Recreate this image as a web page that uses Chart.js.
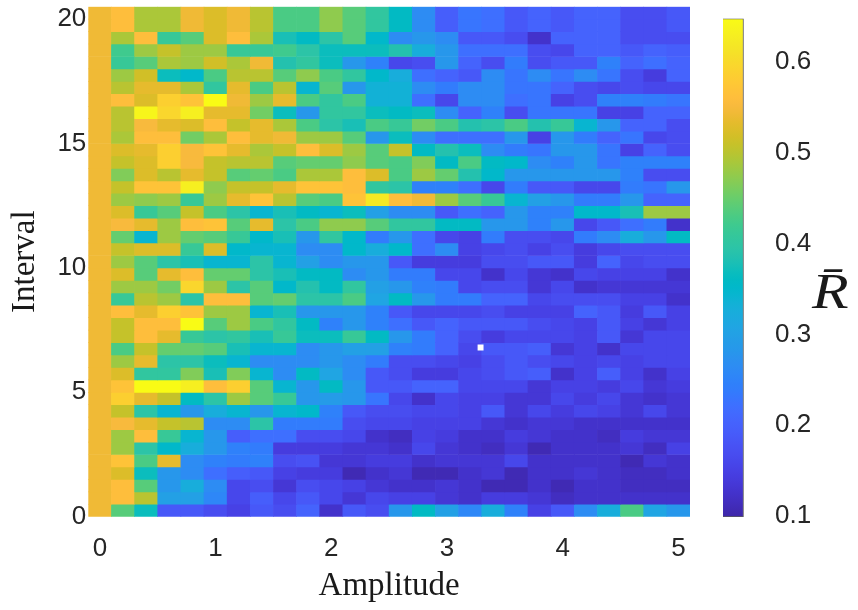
<!DOCTYPE html>
<html>
<head>
<meta charset="utf-8">
<script src="https://cdn.jsdelivr.net/npm/chart.js@4.4.1/dist/chart.umd.min.js"></script>
<style>
  html, body { margin: 0; padding: 0; background: #ffffff; }
  #wrap { position: relative; width: 858px; height: 610px; overflow: hidden; }
  #wrap canvas { position: absolute; left: 0; top: 0; }
  #rlabel { position: absolute; left: 812px; top: 266px; font: italic 50px "Liberation Serif", "Times New Roman", serif; line-height: 50px; color: #1a1a1a; transform: scaleX(1.2); transform-origin: left center; }
</style>
</head>
<body>
<div id="wrap">
  <canvas id="main" width="858" height="610"></canvas>
  <canvas id="cbar" width="858" height="610"></canvas>
  <div id="rlabel">R&#772;</div>
</div>
<script>
// ---------------- data ----------------
const amplitudes = [0.0,0.2,0.4,0.6,0.8,1.0,1.2,1.4,1.6,1.8,2.0,2.2,2.4,2.6,2.8,3.0,3.2,3.4,3.6,3.8,4.0,4.2,4.4,4.6,4.8,5.0];
// row centres, top row first
const intervals = [20.25,19.75,19.25,18.75,18.25,17.75,17.25,16.75,16.25,15.75,15.25,14.75,14.25,13.75,13.25,12.75,12.25,11.75,11.25,10.75,10.25,9.75,9.25,8.75,8.25,7.75,7.25,6.75,6.25,5.75,5.25,4.75,4.25,3.75,3.25,2.75,2.25,1.75,1.25,0.75,0.25];
// mean R values, one row per interval (top row first), one column per amplitude
const rBar = [
[0.545,0.56,0.49,0.49,0.54,0.52,0.54,0.50,0.43,0.43,0.47,0.44,0.40,0.36,0.27,0.20,0.23,0.225,0.185,0.21,0.185,0.205,0.205,0.175,0.175,0.185],
[0.545,0.56,0.49,0.49,0.54,0.52,0.54,0.50,0.43,0.43,0.47,0.44,0.40,0.36,0.27,0.20,0.23,0.225,0.185,0.21,0.185,0.205,0.205,0.175,0.175,0.185],
[0.545,0.49,0.56,0.41,0.44,0.52,0.56,0.49,0.38,0.36,0.395,0.435,0.35,0.265,0.28,0.27,0.185,0.19,0.175,0.13,0.205,0.205,0.205,0.175,0.175,0.175],
[0.545,0.42,0.48,0.51,0.48,0.48,0.41,0.41,0.42,0.395,0.37,0.37,0.37,0.39,0.33,0.285,0.225,0.225,0.225,0.175,0.165,0.205,0.205,0.19,0.205,0.20],
[0.545,0.415,0.44,0.49,0.485,0.515,0.49,0.54,0.39,0.40,0.37,0.285,0.25,0.16,0.175,0.285,0.205,0.175,0.24,0.175,0.185,0.185,0.25,0.205,0.22,0.205],
[0.545,0.485,0.515,0.37,0.35,0.43,0.50,0.50,0.44,0.47,0.43,0.40,0.35,0.33,0.225,0.21,0.185,0.265,0.235,0.265,0.235,0.27,0.235,0.175,0.145,0.205],
[0.545,0.50,0.53,0.53,0.49,0.40,0.53,0.43,0.50,0.345,0.435,0.285,0.335,0.335,0.265,0.24,0.265,0.27,0.235,0.235,0.21,0.175,0.165,0.175,0.165,0.165],
[0.545,0.56,0.52,0.585,0.565,0.64,0.54,0.485,0.53,0.425,0.40,0.43,0.335,0.335,0.225,0.165,0.27,0.27,0.225,0.235,0.155,0.175,0.25,0.25,0.24,0.23],
[0.545,0.50,0.635,0.59,0.63,0.53,0.535,0.455,0.37,0.285,0.40,0.40,0.37,0.36,0.37,0.265,0.21,0.25,0.175,0.235,0.235,0.235,0.155,0.155,0.205,0.205],
[0.545,0.495,0.55,0.535,0.525,0.56,0.51,0.53,0.49,0.43,0.395,0.38,0.43,0.415,0.455,0.43,0.39,0.395,0.425,0.39,0.415,0.345,0.28,0.205,0.205,0.175],
[0.545,0.49,0.56,0.56,0.455,0.49,0.56,0.53,0.545,0.48,0.48,0.435,0.285,0.37,0.265,0.225,0.225,0.225,0.28,0.155,0.28,0.24,0.205,0.235,0.165,0.175],
[0.545,0.525,0.53,0.58,0.55,0.565,0.53,0.49,0.51,0.56,0.525,0.48,0.435,0.51,0.36,0.39,0.37,0.27,0.24,0.235,0.28,0.28,0.235,0.155,0.205,0.175],
[0.545,0.505,0.525,0.585,0.55,0.505,0.50,0.50,0.435,0.45,0.45,0.47,0.44,0.43,0.46,0.36,0.43,0.36,0.355,0.27,0.25,0.28,0.235,0.25,0.25,0.25],
[0.545,0.46,0.525,0.50,0.535,0.505,0.44,0.45,0.43,0.49,0.49,0.555,0.52,0.43,0.48,0.45,0.39,0.355,0.285,0.285,0.28,0.28,0.28,0.25,0.175,0.175],
[0.545,0.505,0.57,0.57,0.625,0.47,0.505,0.51,0.53,0.57,0.57,0.555,0.40,0.395,0.25,0.25,0.225,0.165,0.24,0.185,0.185,0.165,0.165,0.24,0.235,0.28],
[0.545,0.48,0.475,0.48,0.415,0.48,0.53,0.57,0.50,0.435,0.43,0.57,0.62,0.555,0.54,0.48,0.435,0.415,0.34,0.30,0.285,0.24,0.24,0.285,0.205,0.205],
[0.545,0.525,0.41,0.44,0.505,0.425,0.395,0.345,0.38,0.36,0.34,0.37,0.30,0.265,0.265,0.19,0.225,0.205,0.28,0.25,0.25,0.355,0.355,0.38,0.48,0.48],
[0.545,0.55,0.53,0.48,0.56,0.565,0.435,0.535,0.395,0.43,0.47,0.47,0.435,0.40,0.40,0.36,0.36,0.28,0.28,0.25,0.28,0.165,0.185,0.22,0.24,0.125],
[0.545,0.45,0.345,0.48,0.45,0.44,0.415,0.355,0.375,0.285,0.40,0.35,0.24,0.28,0.225,0.165,0.155,0.24,0.175,0.175,0.165,0.24,0.27,0.33,0.285,0.36],
[0.545,0.505,0.525,0.525,0.415,0.52,0.35,0.345,0.345,0.265,0.265,0.35,0.33,0.355,0.225,0.27,0.155,0.165,0.175,0.155,0.175,0.145,0.165,0.17,0.17,0.17],
[0.545,0.485,0.435,0.395,0.375,0.345,0.345,0.395,0.345,0.30,0.27,0.285,0.285,0.19,0.145,0.145,0.145,0.175,0.175,0.19,0.185,0.145,0.205,0.16,0.175,0.175],
[0.545,0.52,0.44,0.535,0.555,0.45,0.45,0.395,0.38,0.36,0.36,0.27,0.28,0.24,0.24,0.165,0.165,0.13,0.165,0.135,0.13,0.165,0.155,0.155,0.155,0.13],
[0.545,0.48,0.48,0.455,0.59,0.485,0.395,0.44,0.35,0.39,0.36,0.40,0.30,0.285,0.25,0.24,0.165,0.175,0.175,0.135,0.165,0.13,0.135,0.135,0.135,0.135],
[0.545,0.415,0.50,0.48,0.395,0.56,0.56,0.435,0.45,0.395,0.395,0.425,0.31,0.36,0.28,0.24,0.24,0.21,0.205,0.165,0.175,0.175,0.17,0.155,0.155,0.13],
[0.545,0.56,0.535,0.58,0.565,0.485,0.485,0.345,0.375,0.285,0.285,0.285,0.25,0.185,0.165,0.165,0.165,0.17,0.155,0.155,0.155,0.205,0.185,0.15,0.19,0.155],
[0.545,0.505,0.56,0.56,0.645,0.435,0.48,0.43,0.40,0.36,0.25,0.28,0.25,0.225,0.19,0.205,0.19,0.185,0.19,0.175,0.165,0.155,0.185,0.155,0.14,0.155],
[0.545,0.505,0.555,0.535,0.415,0.395,0.40,0.38,0.415,0.37,0.37,0.415,0.36,0.28,0.24,0.205,0.175,0.15,0.165,0.165,0.165,0.155,0.185,0.14,0.16,0.16],
[0.545,0.43,0.505,0.45,0.45,0.44,0.38,0.345,0.345,0.265,0.28,0.30,0.30,0.25,0.24,0.21,0.165,0.19,0.19,0.20,0.14,0.155,0.13,0.165,0.165,0.16],
[0.545,0.48,0.535,0.395,0.395,0.37,0.345,0.265,0.27,0.265,0.285,0.265,0.24,0.175,0.175,0.165,0.155,0.175,0.19,0.175,0.165,0.155,0.165,0.155,0.165,0.165],
[0.545,0.525,0.40,0.40,0.46,0.38,0.46,0.345,0.27,0.36,0.31,0.265,0.19,0.175,0.145,0.145,0.165,0.175,0.19,0.195,0.13,0.155,0.20,0.155,0.13,0.155],
[0.545,0.57,0.645,0.64,0.63,0.555,0.585,0.44,0.34,0.28,0.36,0.28,0.185,0.185,0.205,0.205,0.165,0.165,0.165,0.14,0.155,0.155,0.15,0.165,0.14,0.15],
[0.545,0.585,0.535,0.51,0.36,0.395,0.48,0.435,0.41,0.28,0.295,0.28,0.235,0.165,0.13,0.165,0.155,0.155,0.14,0.14,0.165,0.15,0.16,0.14,0.13,0.14],
[0.545,0.505,0.395,0.345,0.285,0.33,0.345,0.285,0.34,0.355,0.25,0.19,0.175,0.175,0.165,0.165,0.155,0.185,0.14,0.165,0.15,0.16,0.155,0.14,0.165,0.14],
[0.545,0.55,0.535,0.51,0.50,0.265,0.265,0.395,0.24,0.24,0.24,0.175,0.165,0.165,0.155,0.155,0.155,0.14,0.13,0.135,0.135,0.13,0.13,0.13,0.13,0.13],
[0.545,0.48,0.56,0.415,0.345,0.285,0.195,0.225,0.225,0.175,0.175,0.165,0.13,0.12,0.155,0.145,0.13,0.13,0.15,0.135,0.13,0.13,0.12,0.15,0.135,0.135],
[0.545,0.48,0.395,0.355,0.33,0.285,0.25,0.24,0.15,0.15,0.15,0.135,0.135,0.13,0.165,0.135,0.13,0.12,0.135,0.11,0.13,0.125,0.13,0.135,0.12,0.155],
[0.545,0.57,0.43,0.535,0.265,0.25,0.24,0.25,0.17,0.18,0.135,0.14,0.15,0.15,0.13,0.135,0.14,0.135,0.16,0.13,0.13,0.125,0.13,0.11,0.135,0.125],
[0.545,0.525,0.37,0.285,0.27,0.225,0.20,0.185,0.155,0.15,0.15,0.11,0.13,0.135,0.11,0.11,0.125,0.14,0.115,0.13,0.125,0.135,0.125,0.12,0.12,0.125],
[0.545,0.56,0.435,0.285,0.33,0.265,0.16,0.17,0.14,0.17,0.16,0.155,0.135,0.13,0.13,0.135,0.13,0.115,0.11,0.125,0.115,0.125,0.125,0.12,0.12,0.12],
[0.545,0.56,0.50,0.30,0.30,0.26,0.165,0.195,0.16,0.185,0.165,0.14,0.165,0.155,0.155,0.135,0.13,0.15,0.15,0.135,0.12,0.13,0.125,0.125,0.125,0.13],
[0.545,0.435,0.37,0.185,0.185,0.175,0.155,0.185,0.175,0.205,0.13,0.19,0.175,0.285,0.36,0.30,0.255,0.33,0.25,0.155,0.185,0.27,0.33,0.425,0.31,0.28]
];
const xTicks = [0, 1, 2, 3, 4, 5];
const yTicks = [0, 5, 10, 15, 20];
const colorbarTicks = [0.1, 0.2, 0.3, 0.4, 0.5, 0.6];
const markerX = [3.29];
const markerY = [6.8];

// ---------------- colour mapping (parula) ----------------
const cMin = 0.099, cMax = 0.648;
const PARULA = [
[0.2422,0.1504,0.6603],[0.2504,0.1650,0.7076],[0.2578,0.1818,0.7511],[0.2647,0.1978,0.7952],
[0.2706,0.2147,0.8364],[0.2751,0.2342,0.8710],[0.2783,0.2559,0.8991],[0.2803,0.2782,0.9221],
[0.2813,0.3006,0.9414],[0.2810,0.3228,0.9579],[0.2795,0.3447,0.9717],[0.2760,0.3667,0.9829],
[0.2699,0.3892,0.9906],[0.2602,0.4123,0.9952],[0.2440,0.4358,0.9988],[0.2206,0.4603,0.9973],
[0.1963,0.4847,0.9892],[0.1834,0.5074,0.9798],[0.1786,0.5289,0.9682],[0.1764,0.5499,0.9520],
[0.1687,0.5703,0.9359],[0.1540,0.5902,0.9218],[0.1460,0.6091,0.9079],[0.1380,0.6276,0.8973],
[0.1248,0.6459,0.8883],[0.1113,0.6635,0.8763],[0.0952,0.6798,0.8598],[0.0689,0.6948,0.8394],
[0.0297,0.7082,0.8163],[0.0036,0.7203,0.7917],[0.0067,0.7312,0.7660],[0.0433,0.7411,0.7394],
[0.0964,0.7500,0.7120],[0.1408,0.7584,0.6842],[0.1717,0.7670,0.6554],[0.1938,0.7758,0.6251],
[0.2161,0.7843,0.5923],[0.2470,0.7918,0.5567],[0.2906,0.7973,0.5188],[0.3406,0.8008,0.4789],
[0.3909,0.8029,0.4354],[0.4456,0.8024,0.3909],[0.5044,0.7993,0.3480],[0.5616,0.7942,0.3045],
[0.6174,0.7876,0.2612],[0.6720,0.7793,0.2227],[0.7242,0.7698,0.1910],[0.7738,0.7598,0.1646],
[0.8203,0.7498,0.1535],[0.8634,0.7406,0.1596],[0.9035,0.7330,0.1774],[0.9393,0.7288,0.2100],
[0.9728,0.7298,0.2394],[0.9956,0.7434,0.2371],[0.9970,0.7659,0.2199],[0.9952,0.7893,0.2028],
[0.9892,0.8136,0.1885],[0.9786,0.8386,0.1766],[0.9676,0.8639,0.1643],[0.9610,0.8890,0.1537],
[0.9597,0.9135,0.1423],[0.9628,0.9373,0.1265],[0.9691,0.9606,0.1064],[0.9769,0.9839,0.0805]
];
const rgbStr = c => 'rgb(' + Math.round(c[0]*255) + ',' + Math.round(c[1]*255) + ',' + Math.round(c[2]*255) + ')';
function colorFor(v) {
  const t = (v - cMin) / (cMax - cMin);
  const idx = Math.max(0, Math.min(PARULA.length - 1, Math.floor(t * PARULA.length)));
  return rgbStr(PARULA[idx]);
}

const SANS = '"Liberation Sans", Arial, Helvetica, sans-serif';
const SERIF = '"Liberation Serif", "Times New Roman", serif';
const TXT = '#262626';
const halfRow = 0.25; // half of the interval step
const noEdgePad = s => { s.paddingTop = 0; s.paddingBottom = 0; s.paddingLeft = 0; s.paddingRight = 0; };

// ---------------- heatmap ----------------
const cellSets = intervals.map((iv, r) => ({
  type: 'bar',
  data: amplitudes.map(a => ({ x: a, y: [iv - halfRow, iv + halfRow] })),
  backgroundColor: rBar[r].map(colorFor),
  borderWidth: 0,
  grouped: false,
  barPercentage: 1,
  categoryPercentage: 1,
  inflateAmount: 'auto',
  order: 1
}));
const markerSet = {
  type: 'scatter',
  data: markerX.map((x, i) => ({ x: x, y: markerY[i] })),
  pointStyle: 'rect',
  radius: 4.2,
  backgroundColor: '#ffffff',
  borderWidth: 0,
  order: 0
};

new Chart(document.getElementById('main'), {
  type: 'bar',
  data: { datasets: [markerSet].concat(cellSets) },
  options: {
    responsive: false,
    animation: false,
    events: [],
    layout: { padding: { left: 0, top: 6.7, right: 168, bottom: 0 } },
    plugins: { legend: { display: false }, tooltip: { enabled: false } },
    scales: {
      x: {
        type: 'linear', position: 'bottom', min: -0.1, max: 5.1, offset: false,
        grid: { display: false, drawTicks: false }, border: { display: false },
        afterBuildTicks: s => { s.ticks = xTicks.map(v => ({ value: v })); },
        afterFit: s => { s.height = 93.3; noEdgePad(s); },
        ticks: { font: { family: SANS, size: 26 }, color: TXT, padding: 17, maxRotation: 0, autoSkip: false },
        title: { display: true, text: 'Amplitude', font: { family: SERIF, size: 33 }, color: '#1a1a1a', padding: { top: 0, bottom: 4 } }
      },
      y: {
        type: 'linear', min: 0, max: 20.5, stacked: false,
        grid: { display: false, drawTicks: false }, border: { display: false },
        afterBuildTicks: s => { s.ticks = yTicks.map(v => ({ value: v })); },
        afterFit: s => { s.width = 88.3; noEdgePad(s); },
        ticks: { font: { family: SANS, size: 26 }, color: TXT, padding: 2, autoSkip: false },
        title: { display: true, text: 'Interval', font: { family: SERIF, size: 33 }, color: '#1a1a1a', padding: { top: 6, bottom: 0 } }
      }
    }
  }
});

// ---------------- colour bar ----------------
new Chart(document.getElementById('cbar'), {
  type: 'bar',
  data: {
    labels: ['R'],
    datasets: [{
      data: [[cMin, cMax]],
      backgroundColor: ctx => {
        const a = ctx.chart.chartArea;
        if (!a) return 'rgba(0,0,0,0)';
        const g = ctx.chart.ctx.createLinearGradient(0, a.bottom, 0, a.top);
        PARULA.forEach((c, i) => g.addColorStop(i / (PARULA.length - 1), rgbStr(c)));
        return g;
      },
      borderColor: 'rgba(38,38,38,0.75)',
      borderWidth: 1,
      borderSkipped: false,
      barPercentage: 1,
      categoryPercentage: 1
    }]
  },
  options: {
    responsive: false,
    animation: false,
    events: [],
    layout: { padding: { left: 723, top: 18.6, right: 0, bottom: 93 } },
    plugins: { legend: { display: false }, tooltip: { enabled: false } },
    scales: {
      x: { display: false, offset: false },
      y: {
        position: 'right', min: cMin, max: cMax,
        grid: { display: false, drawTicks: false }, border: { display: false },
        afterBuildTicks: s => { s.ticks = colorbarTicks.map(v => ({ value: v })); },
        afterFit: s => { s.width = 94; noEdgePad(s); },
        ticks: { font: { family: SANS, size: 26 }, color: TXT, padding: 11, autoSkip: false,
                 callback: v => v.toFixed(1) }
      }
    }
  }
});
</script>
</body>
</html>
